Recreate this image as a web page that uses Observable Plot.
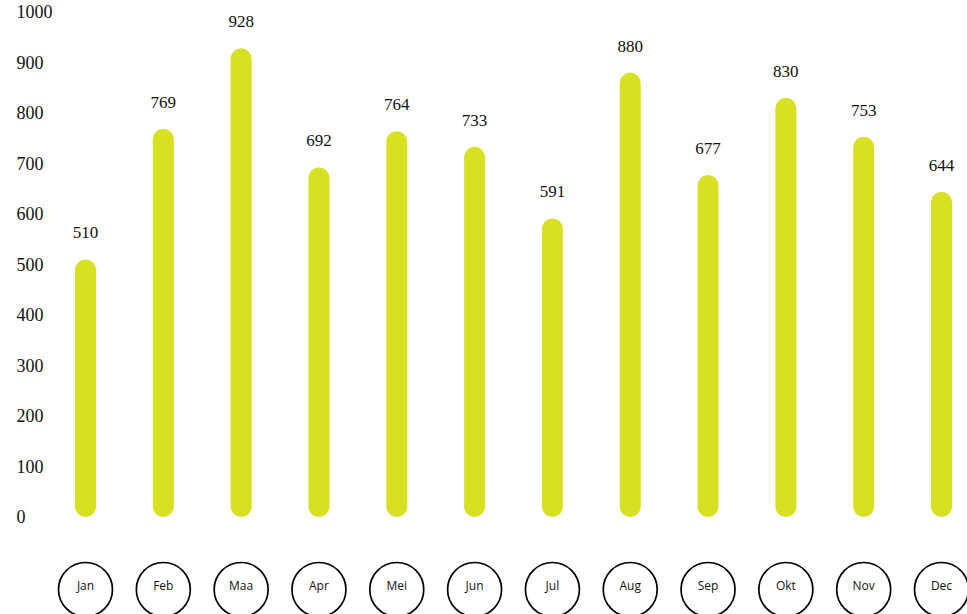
<!DOCTYPE html>
<html>
<head>
<meta charset="utf-8">
<script src="https://cdn.jsdelivr.net/npm/d3@7"></script>
<script src="https://cdn.jsdelivr.net/npm/@observablehq/plot@0.6"></script>
<style>
  html, body { margin: 0; padding: 0; background: #fff; }
</style>
</head>
<body>
<div id="chart"></div>
<script>
const months = ["Jan", "Feb", "Maa", "Apr", "Mei", "Jun", "Jul", "Aug", "Sep", "Okt", "Nov", "Dec"];
const values = [510, 769, 928, 692, 764, 733, 591, 880, 677, 830, 753, 644];
const yTicks = [0, 100, 200, 300, 400, 500, 600, 700, 800, 900, 1000];

const data = months.map((m, i) => ({month: m, value: values[i]}));
const barColor = "#d8e022";
const serif = "'Liberation Serif', 'DejaVu Serif', serif";
const sans = "'Open Sans', 'Noto Sans', sans-serif";

const chart = Plot.plot({
  width: 967,
  height: 614,
  marginLeft: 85,
  marginRight: 26,
  marginTop: 12,
  marginBottom: 97,
  style: {fontFamily: serif, background: "#fff"},
  x: {type: "point", domain: months, padding: 0, round: false, axis: null},
  y: {domain: [0, 1000], axis: null},
  marks: [
    Plot.ruleX(data, {
      x: "month", y1: "value", y2: 0,
      stroke: barColor, strokeWidth: 21, strokeLinecap: "round",
      insetTop: 10.5, insetBottom: 10.5
    }),
    Plot.text(data, {
      x: "month", y: "value", text: d => String(d.value),
      dy: -27, fontSize: 17, fontFamily: serif, fill: "#111"
    }),
    Plot.text(yTicks, {
      y: d => d, text: d => String(d), frameAnchor: "left",
      dx: -69, textAnchor: "start", fontSize: 18, fontFamily: serif, fill: "#111"
    }),
    Plot.dot(months, {
      x: d => d, frameAnchor: "bottom", dy: 72, r: 27,
      stroke: "#000", strokeWidth: 1.7, fill: "#fff"
    }),
    Plot.text(months, {
      x: d => d, text: d => d, frameAnchor: "bottom", dy: 72,
      fontSize: 12, fontFamily: sans, fill: "#111"
    })
  ]
});
document.getElementById("chart").appendChild(chart);
</script>
</body>
</html>
